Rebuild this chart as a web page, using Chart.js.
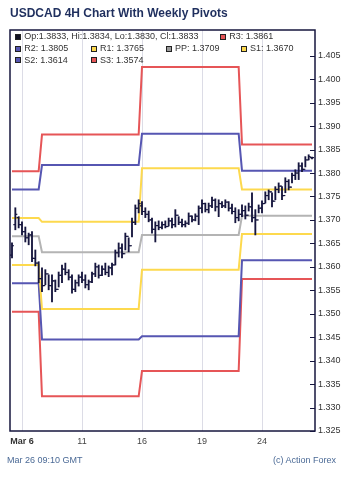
<!DOCTYPE html>
<html>
<head>
<meta charset="utf-8">
<script src="https://cdn.jsdelivr.net/npm/chart.js@4.4.0/dist/chart.umd.min.js"></script>
<style>
body{margin:0;background:#fff;font-family:"Liberation Sans",Arial,sans-serif;}
#wrap{position:relative;width:350px;height:481px;overflow:hidden;}
#myChart{position:absolute;left:0;top:0;}
#title{position:absolute;left:10px;top:6px;font-size:12px;line-height:15px;font-weight:bold;color:#1f2f5e;white-space:nowrap;}
.lg{position:absolute;font-size:9px;line-height:11px;color:#333;white-space:nowrap;}
.sq{position:absolute;width:4px;height:4px;border:1px solid #222;}
.foot{position:absolute;top:455px;font-size:9px;line-height:11px;color:#4b6a96;white-space:nowrap;}
</style>
</head>
<body>
<div id="wrap">
  <canvas id="myChart" width="350" height="481"></canvas>
  <div id="title">USDCAD 4H Chart With Weekly Pivots</div>
  <div id="legend"></div>
  <div class="foot" style="left:7px">Mar 26 09:10 GMT</div>
  <div class="foot" style="right:14px">(c) Action Forex</div>
</div>
<script>
// 4H bars, Mar 5 12:00 .. Mar 26

let openP  = [1.3625,1.3690,1.3705,1.3690,1.3675,1.3662,1.3668,1.3618,1.3608,1.3575,
              1.3560,1.3585,1.3560,1.3570,1.3552,1.3582,1.3595,1.3588,1.3578,1.3552,
              1.3566,1.3578,1.3572,1.3562,1.3568,1.3585,1.3600,1.3582,1.3595,1.3588,
              1.3598,1.3604,1.3630,1.3640,1.3628,1.3665,1.3645,1.3695,1.3725,1.3730,
              1.3718,1.3712,1.3700,1.3680,1.3688,1.3684,1.3690,1.3686,1.3698,1.3690,
              1.3710,1.3695,1.3690,1.3693,1.3708,1.3700,1.3708,1.3725,1.3735,1.3722,
              1.3730,1.3742,1.3728,1.3735,1.3730,1.3738,1.3725,1.3718,1.3705,1.3712,
              1.3720,1.3710,1.3728,1.3705,1.3700,1.3725,1.3735,1.3752,1.3760,1.3740,
              1.3765,1.3772,1.3752,1.3782,1.3770,1.3795,1.3800,1.3815,1.3808,1.3828,
              1.3833];
let highP  = [1.3651,1.3726,1.3707,1.3696,1.3685,1.3672,1.3675,1.3636,1.3611,1.3598,
              1.3594,1.3583,1.3583,1.3572,1.3589,1.3604,1.3608,1.3594,1.3583,1.3572,
              1.3583,1.3589,1.3583,1.3572,1.3589,1.3608,1.3604,1.3602,1.3608,1.3602,
              1.3608,1.3636,1.3651,1.3649,1.3672,1.3662,1.3704,1.3732,1.3743,1.3739,
              1.3726,1.3719,1.3704,1.3696,1.3698,1.3696,1.3698,1.3704,1.3704,1.3722,
              1.3707,1.3702,1.3698,1.3715,1.3709,1.3713,1.3730,1.3743,1.3736,1.3736,
              1.3749,1.3745,1.3743,1.3739,1.3743,1.3739,1.3734,1.3726,1.3722,1.3732,
              1.3730,1.3736,1.3758,1.3722,1.3732,1.3741,1.3760,1.3764,1.3758,1.3771,
              1.3779,1.3771,1.3790,1.3786,1.3800,1.3807,1.3822,1.3822,1.3835,1.3839,
              1.3834];
let lowP   = [1.3619,1.3679,1.3683,1.3668,1.3653,1.3647,1.3611,1.3602,1.3566,1.3547,
              1.3562,1.3551,1.3525,1.3547,1.3557,1.3566,1.3583,1.3572,1.3544,1.3547,
              1.3559,1.3566,1.3555,1.3551,1.3566,1.3579,1.3576,1.3581,1.3583,1.3579,
              1.3583,1.3604,1.3621,1.3619,1.3636,1.3632,1.3664,1.3690,1.3715,1.3711,
              1.3705,1.3696,1.3672,1.3653,1.3679,1.3681,1.3683,1.3687,1.3683,1.3685,
              1.3690,1.3685,1.3685,1.3690,1.3696,1.3698,1.3690,1.3715,1.3717,1.3715,
              1.3726,1.3719,1.3707,1.3726,1.3726,1.3719,1.3713,1.3694,1.3698,1.3707,
              1.3702,1.3719,1.3696,1.3668,1.3715,1.3715,1.3736,1.3743,1.3728,1.3743,
              1.3758,1.3743,1.3758,1.3764,1.3779,1.3786,1.3786,1.3803,1.3813,1.3828,
              1.3830];
let closeP = [1.3645,1.3712,1.3690,1.3675,1.3662,1.3668,1.3618,1.3608,1.3575,1.3560,
              1.3585,1.3560,1.3570,1.3552,1.3582,1.3595,1.3588,1.3578,1.3552,1.3566,
              1.3578,1.3572,1.3562,1.3568,1.3585,1.3600,1.3582,1.3595,1.3588,1.3598,
              1.3604,1.3630,1.3640,1.3628,1.3665,1.3645,1.3695,1.3725,1.3735,1.3718,
              1.3712,1.3700,1.3680,1.3688,1.3684,1.3690,1.3686,1.3698,1.3690,1.3710,
              1.3695,1.3690,1.3693,1.3708,1.3700,1.3708,1.3725,1.3735,1.3722,1.3730,
              1.3742,1.3728,1.3735,1.3730,1.3738,1.3725,1.3718,1.3705,1.3712,1.3720,
              1.3710,1.3728,1.3705,1.3700,1.3725,1.3735,1.3752,1.3760,1.3740,1.3765,
              1.3772,1.3752,1.3782,1.3770,1.3795,1.3800,1.3815,1.3808,1.3828,1.3835,
              1.3833];

// weekly pivots (bar where each week starts)
let weekStart = [0, 9, 39, 69];
let R3 = [1.3804, 1.3882, 1.4026, 1.3861];
let R2 = [1.3765, 1.3817, 1.3884, 1.3805];
let R1 = [1.3704, 1.3696, 1.3810, 1.3765];
let PP = [1.3665, 1.3631, 1.3668, 1.3709];
let S1 = [1.3604, 1.3510, 1.3594, 1.3670];
let S2 = [1.3565, 1.3445, 1.3452, 1.3614];
let S3 = [1.3504, 1.3324, 1.3378, 1.3574];

// axis ticks
let xTickBars   = [3, 21, 39, 57, 75];
let xTickLabels = ['Mar 6', '11', '16', '19', '24'];
let yTicks = [1.325, 1.330, 1.335, 1.340, 1.345, 1.350, 1.355, 1.360, 1.365, 1.370, 1.375, 1.380, 1.385, 1.390, 1.395, 1.400, 1.405];

let navy = '#16163e';
let red = '#e65557', blue = '#5656b2', yellow = '#fdd94e', gray = '#b4b4b4';

Chart.defaults.font.family = '"Liberation Sans", Arial, sans-serif';
Chart.defaults.font.size = 9;
Chart.defaults.color = '#333';

function weekOf(i){
    let w = 0;
    for(let k = 0; k < weekStart.length; k++){ if(i >= weekStart[k]) w = k; }
    return w;
}

function pivotLine(levels, color){
    return {
        type: 'line',
        data: closeP.map((c, i) => ({x: i, y: levels[weekOf(i)]})),
        borderColor: color,
        borderWidth: 2,
        pointRadius: 0,
        tension: 0,
        order: 2
    };
}

// legend (html)
let legendItems = [
    {t: 'Op:' + openP[90].toFixed(4) + ', Hi:' + highP[90].toFixed(4) + ', Lo:' + lowP[90].toFixed(4) + ', Cl:' + closeP[90].toFixed(4), c: '#111122', x: 15, y: 31.3},
    {t: 'R3: ' + R3[3].toFixed(4), c: red,    x: 220, y: 31.3},
    {t: 'R2: ' + R2[3].toFixed(4), c: blue,   x: 15,  y: 43.3},
    {t: 'R1: ' + R1[3].toFixed(4), c: yellow, x: 90.7, y: 43.3},
    {t: 'PP: ' + PP[3].toFixed(4), c: '#9a9a9a', x: 165.7, y: 43.3},
    {t: 'S1: ' + S1[3].toFixed(4), c: yellow, x: 240.7, y: 43.3},
    {t: 'S2: ' + S2[3].toFixed(4), c: blue,   x: 15,  y: 54.7},
    {t: 'S3: ' + S3[3].toFixed(4), c: red,    x: 90.7, y: 54.7}
];
let lg = document.getElementById('legend');
for(let it of legendItems){
    lg.insertAdjacentHTML('beforeend',
        `<div class="sq" style="left:${it.x}px;top:${it.y + 2.7}px;background:${it.c}"></div>
         <div class="lg" style="left:${it.x + 9.3}px;top:${it.y}px">${it.t}</div>`);
}

// frame + inner y ticks
let frame = {
    id: 'frame',
    afterDraw(chart){
        let {ctx, chartArea: a, scales} = chart;
        ctx.save();
        ctx.strokeStyle = navy;
        ctx.lineWidth = 1.5;
        ctx.strokeRect(a.left, a.top, a.right - a.left, a.bottom - a.top);
        ctx.beginPath();
        for(let v of yTicks){
            let py = Math.round(scales.y.getPixelForValue(v)) + 0.5;
            ctx.moveTo(a.right - 5, py);
            ctx.lineTo(a.right, py);
        }
        ctx.lineWidth = 1;
        ctx.stroke();
        ctx.restore();
    }
};

let myChart = document.getElementById('myChart').getContext('2d');

let ohlcChart = new Chart(myChart, {
    type: 'line',
    data: {
        datasets: [
            {
                type: 'bar',
                data: highP.map((h, i) => ({x: i, y: [lowP[i], h]})),
                backgroundColor: navy,
                borderWidth: 0,
                barThickness: 1.2,
                grouped: false,
                order: 0
            },
            {
                type: 'line',
                data: openP.map((o, i) => ({x: i - 0.3, y: o})),
                showLine: false,
                pointStyle: 'line',
                pointRadius: 1,
                pointBorderWidth: 1.2,
                pointBorderColor: navy,
                order: 0
            },
            {
                type: 'line',
                data: closeP.map((c, i) => ({x: i + 0.3, y: c})),
                showLine: false,
                pointStyle: 'line',
                pointRadius: 1,
                pointBorderWidth: 1.2,
                pointBorderColor: navy,
                order: 0
            },
            pivotLine(PP, gray),
            pivotLine(R1, yellow),
            pivotLine(S1, yellow),
            pivotLine(R2, blue),
            pivotLine(S2, blue),
            pivotLine(R3, red),
            pivotLine(S3, red)
        ]
    },
    options: {
        responsive: false,
        animation: false,
        devicePixelRatio: 1,
        layout: { padding: { top: 30, left: 10, right: 0, bottom: 0 } },
        scales: {
            x: {
                type: 'linear',
                min: -0.6,
                max: 90.9,
                offset: false,
                afterBuildTicks: s => { s.ticks = xTickBars.map(v => ({value: v})); },
                afterFit: s => { s.height = 50; },
                ticks: {
                    autoSkip: false,
                    maxRotation: 0,
                    padding: 5,
                    callback: (v, i) => xTickLabels[i],
                    font: ctx => ({ size: 9, weight: ctx.index === 0 ? 'bold' : 'normal' }),
                    color: ctx => ctx.index === 0 ? '#333' : '#444'
                },
                grid: { color: '#dcdce6', lineWidth: 1, drawTicks: false, offset: false },
                border: { display: false }
            },
            y: {
                position: 'right',
                min: 1.325,
                max: 1.4105,
                beginAtZero: false,
                afterBuildTicks: s => { s.ticks = yTicks.map(v => ({value: v})); },
                afterFit: s => { s.width = 35; },
                ticks: {
                    padding: 3,
                    callback: v => v.toFixed(3),
                    color: '#333'
                },
                grid: { display: false, drawTicks: false },
                border: { display: false }
            }
        },
        plugins: {
            legend: { display: false },
            tooltip: { enabled: false }
        }
    },
    plugins: [frame]
});
</script>
</body>
</html>
